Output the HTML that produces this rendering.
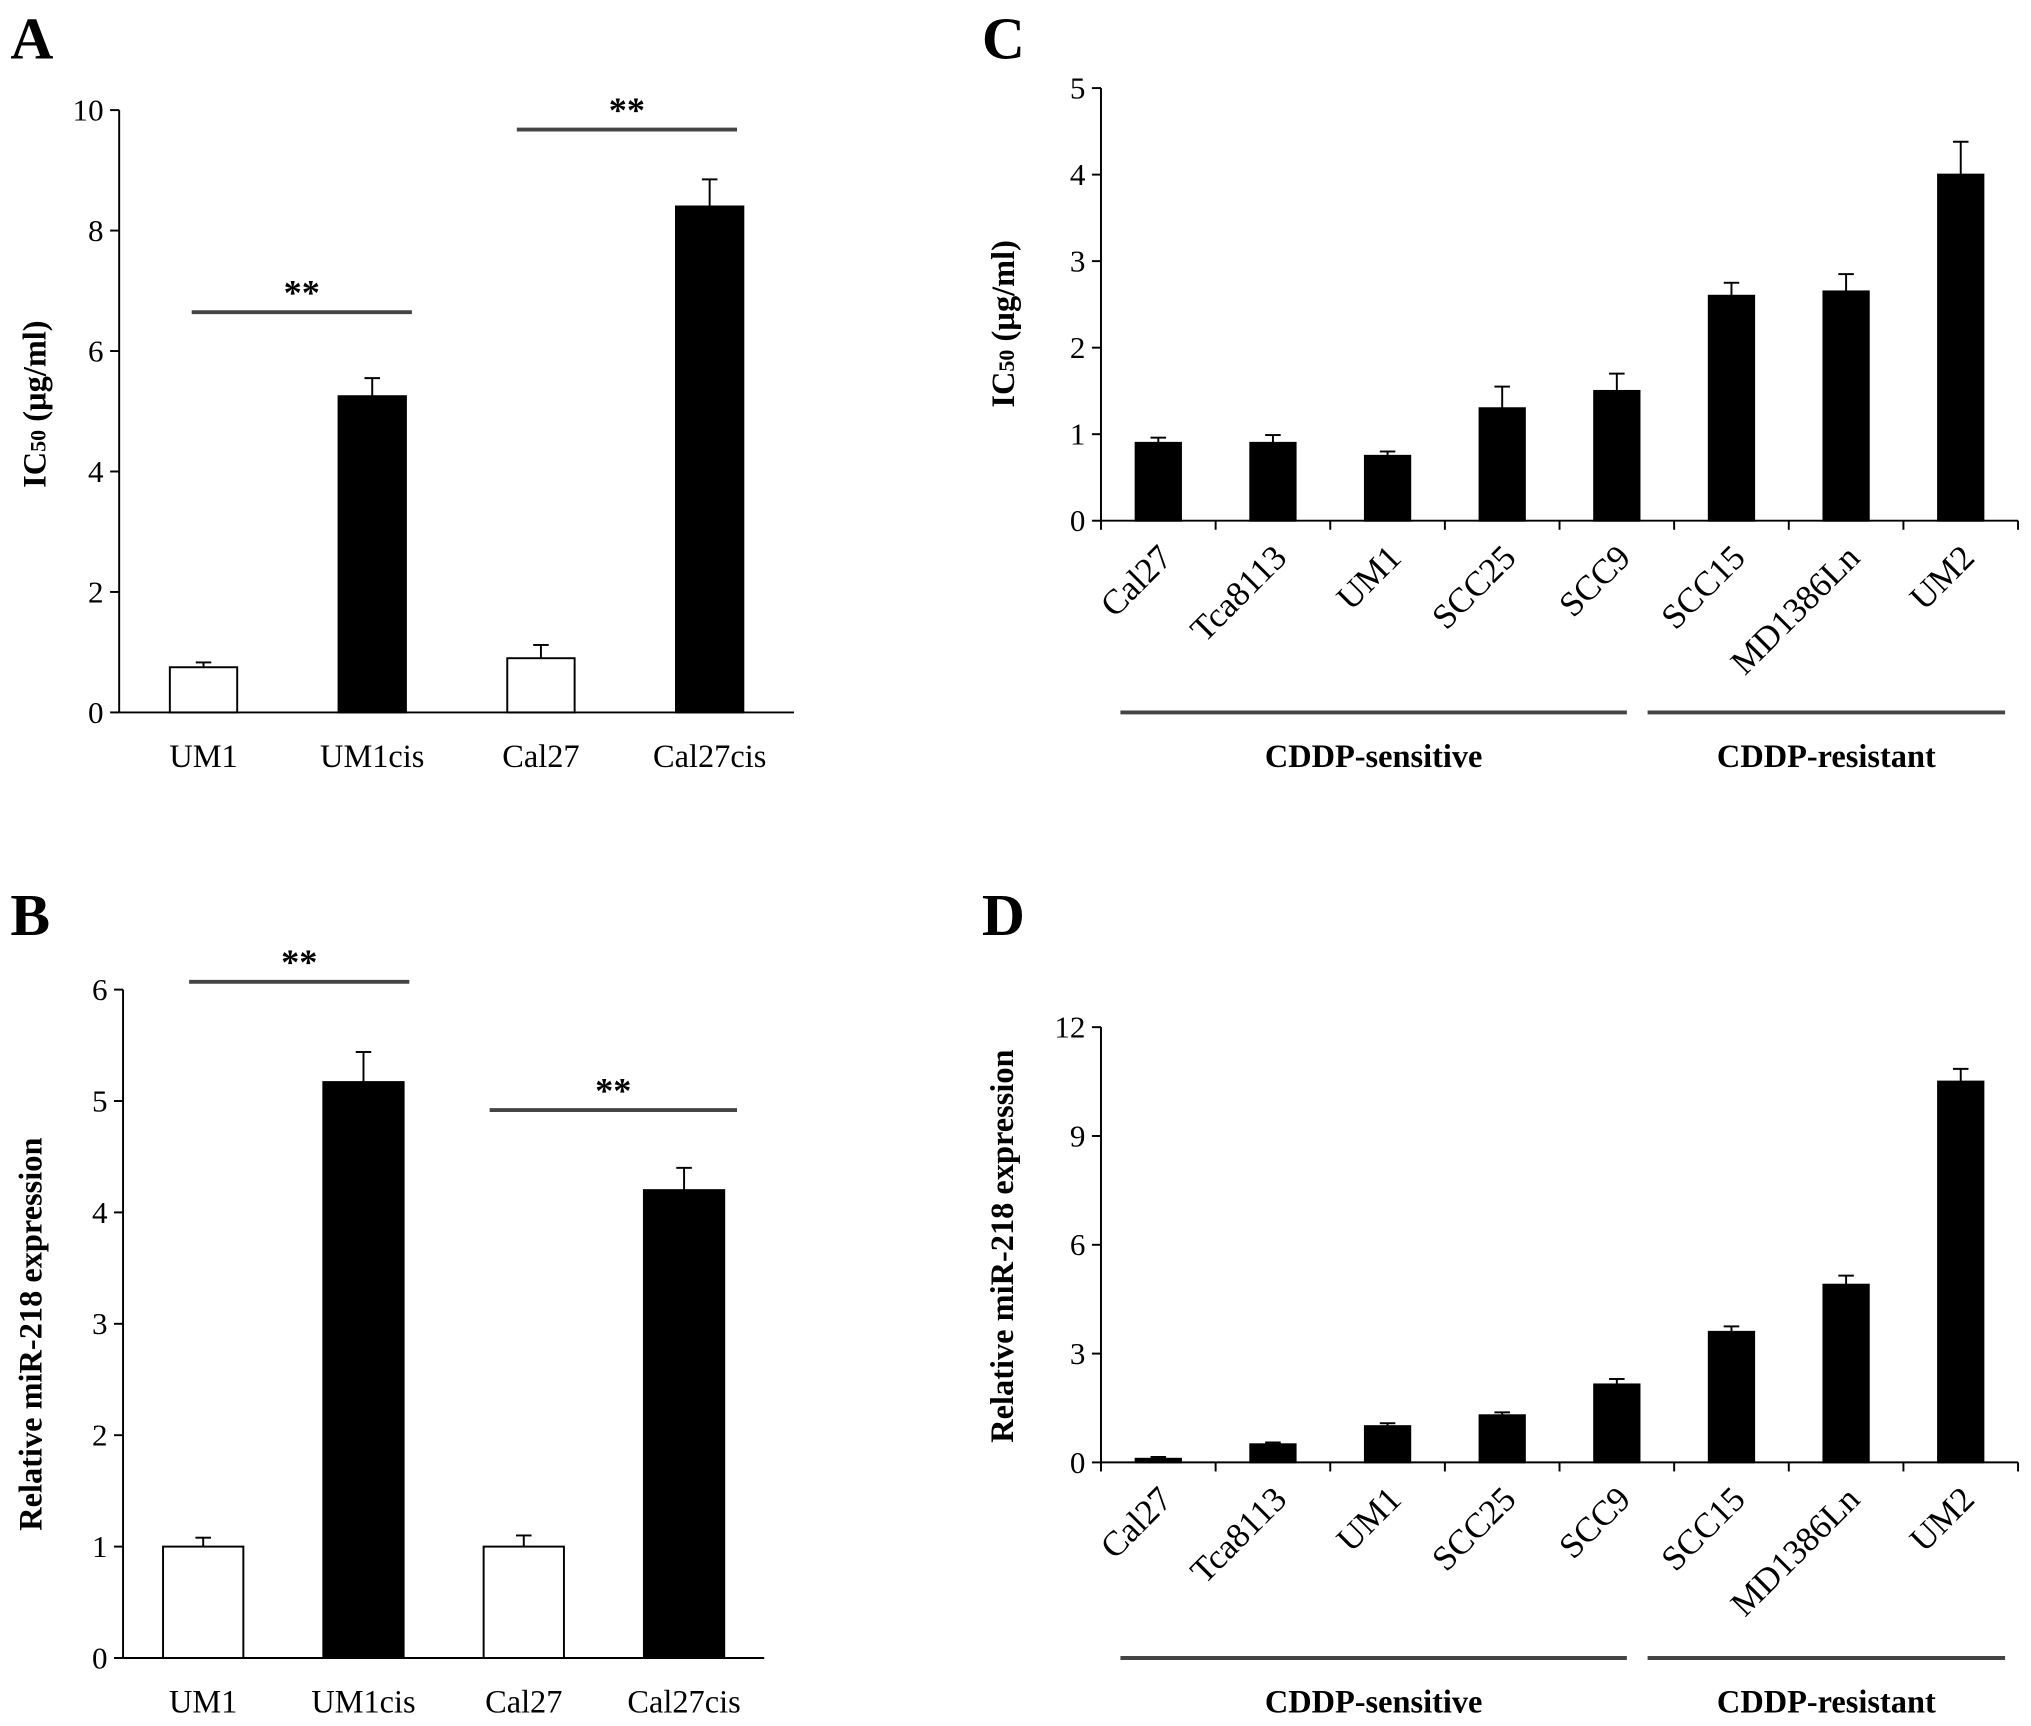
<!DOCTYPE html>
<html><head><meta charset="utf-8"><style>
html,body{margin:0;padding:0;background:#fff;}
svg{display:block;font-family:"Liberation Serif",serif;}
</style></head><body>
<svg id="fig" width="2031" height="1726" viewBox="0 0 1568 1332.5" preserveAspectRatio="none" xmlns="http://www.w3.org/2000/svg"></svg>
<script>
const catsAB = ["UM1","UM1cis","Cal27","Cal27cis"];
const valsA = [0.75,5.25,0.9,8.4];
const errsA = [0.08,0.3,0.22,0.45];
const ticksA = [0,2,4,6,8,10];
const valsB = [1.0,5.17,1.0,4.2];
const errsB = [0.08,0.27,0.1,0.2];
const ticksB = [0,1,2,3,4,5,6];
const fillAB = ["#fff","#000","#fff","#000"];
const catsCD = ["Cal27","Tca8113","UM1","SCC25","SCC9","SCC15","MD1386Ln","UM2"];
const valsC = [0.9,0.9,0.75,1.3,1.5,2.6,2.65,4.0];
const errsC = [0.06,0.09,0.05,0.25,0.2,0.15,0.2,0.38];
const ticksC = [0,1,2,3,4,5];
const valsD = [0.1,0.5,1.0,1.3,2.15,3.6,4.9,10.5];
const errsD = [0.05,0.05,0.08,0.08,0.15,0.15,0.25,0.35];
const ticksD = [0,3,6,9,12];

const svg = document.getElementById('fig');
const NS = "http://www.w3.org/2000/svg";
function mk(tag, attrs, parent, text){
  const e = document.createElementNS(NS, tag);
  for (const k in attrs) e.setAttribute(k, attrs[k]);
  if (text !== undefined) e.textContent = text;
  (parent||svg).appendChild(e);
  return e;
}
function line(x1,y1,x2,y2,p,w,c){return mk('line',{x1,y1,x2,y2,stroke:c||'#000','stroke-width':w||1.5},p);}

function panel(o){
  const g = mk('g',{});
  
  
  const ymax = o.ticks[o.ticks.length-1];
  const Y = v => o.y0 - (v/ymax)*(o.y0-o.ytop);
  const n = o.cats.length;
  const step = (o.xR - o.xL)/n;
  const X = i => o.xL + step*(i+0.5);
  const ya = line(o.xL,o.ytop,o.xL,o.y0,g);
  
  
  const xa = line(o.xL,o.y0,o.xR,o.y0,g);
  
  
  o.ticks.forEach(t=>{
    line(o.xL-7,Y(t),o.xL,Y(t),g);
    const tl = mk('text',{x:o.xL-12,y:Y(t)+8,'font-size':24,'text-anchor':'end'},g,String(t));
    
    
  });
  if (o.xticks) for (let i=0;i<=n;i++) line(o.xL+step*i,o.y0,o.xL+step*i,o.y0+7,g);
  o.vals.forEach((v,i)=>{
    const cx = X(i), w = o.bw;
    const b = mk('rect',{x:cx-w/2,y:Y(v),width:w,height:o.y0-Y(v),fill:o.fills?o.fills[i]:'#000',stroke:'#000','stroke-width':1.5},g);
    
    
    const ye = Y(v+o.errs[i]);
    line(cx,Y(v),cx,ye,g);
    line(cx-6,ye,cx+6,ye,g);
    let lab;
    if (o.rot) {
      lab = mk('text',{x:cx+12,y:o.y0+30,'font-size':27,'text-anchor':'end',transform:`rotate(-45 ${cx+12} ${o.y0+30})`},g,o.cats[i]);
    } else {
      lab = mk('text',{x:cx,y:o.y0+42,'font-size':25,'text-anchor':'middle'},g,o.cats[i]);
    }
    
    
  });
  const tt = mk('text',{x:o.titleX,y:o.titleY,'font-size':25,'font-weight':'bold','text-anchor':'middle',transform:`rotate(-90 ${o.titleX} ${o.titleY})`},g);
  
  
  if (o.ic) { mk('tspan',{},tt,'IC'); mk('tspan',{'font-size':17},tt,'50'); mk('tspan',{},tt,'  (µg/ml)'); }
  else tt.textContent = o.title;
  (o.sig||[]).forEach(s=>{
    const l = line(s[0],s[2],s[1],s[2],g,3,'#444');
    
    
    const st = mk('text',{x:(s[0]+s[1])/2,y:s[2]-6,'font-size':28,'font-weight':'bold','text-anchor':'middle'},g,'**');
    
    
  });
  (o.groups||[]).forEach(gr=>{
    const l = line(gr[0],o.gy,gr[1],o.gy,g,3,'#444');
    
    
    const t = mk('text',{x:(gr[0]+gr[1])/2,y:o.gy+42,'font-size':25,'font-weight':'bold','text-anchor':'middle'},g,gr[2]);
    
    
  });
  const L = mk('text',{x:o.lx,y:o.ly,'font-size':46,'font-weight':'bold'},g,o.letter);
  
  
}

panel({name:'panel-a',letter:'A',lx:8,ly:45,cats:catsAB,vals:valsA,errs:errsA,ticks:ticksA,fills:fillAB,
  xL:92,xR:613,y0:550,ytop:85,bw:52,ic:true,titleX:35,titleY:312,
  sig:[[148,318,241],[399,569,100]]});
panel({name:'panel-b',letter:'B',lx:8,ly:722,cats:catsAB,vals:valsB,errs:errsB,ticks:ticksB,fills:fillAB,
  xL:95,xR:590,y0:1280,ytop:764,bw:62,title:'Relative miR-218 expression',titleX:32,titleY:1030,
  sig:[[146,316,758],[378,569,857]]});
panel({name:'panel-c',letter:'C',lx:758,ly:45,cats:catsCD,vals:valsC,errs:errsC,ticks:ticksC,
  xL:850,xR:1558,y0:402,ytop:68,bw:35,rot:true,xticks:true,ic:true,titleX:783,titleY:250,
  gy:550,groups:[[865,1256,'CDDP-sensitive'],[1272,1548,'CDDP-resistant']]});
panel({name:'panel-d',letter:'D',lx:758,ly:722,cats:catsCD,vals:valsD,errs:errsD,ticks:ticksD,
  xL:850,xR:1558,y0:1129,ytop:793,bw:35,rot:true,xticks:true,title:'Relative miR-218 expression',titleX:782,titleY:962,
  gy:1280,groups:[[865,1256,'CDDP-sensitive'],[1272,1548,'CDDP-resistant']]});
</script>
</body></html>
